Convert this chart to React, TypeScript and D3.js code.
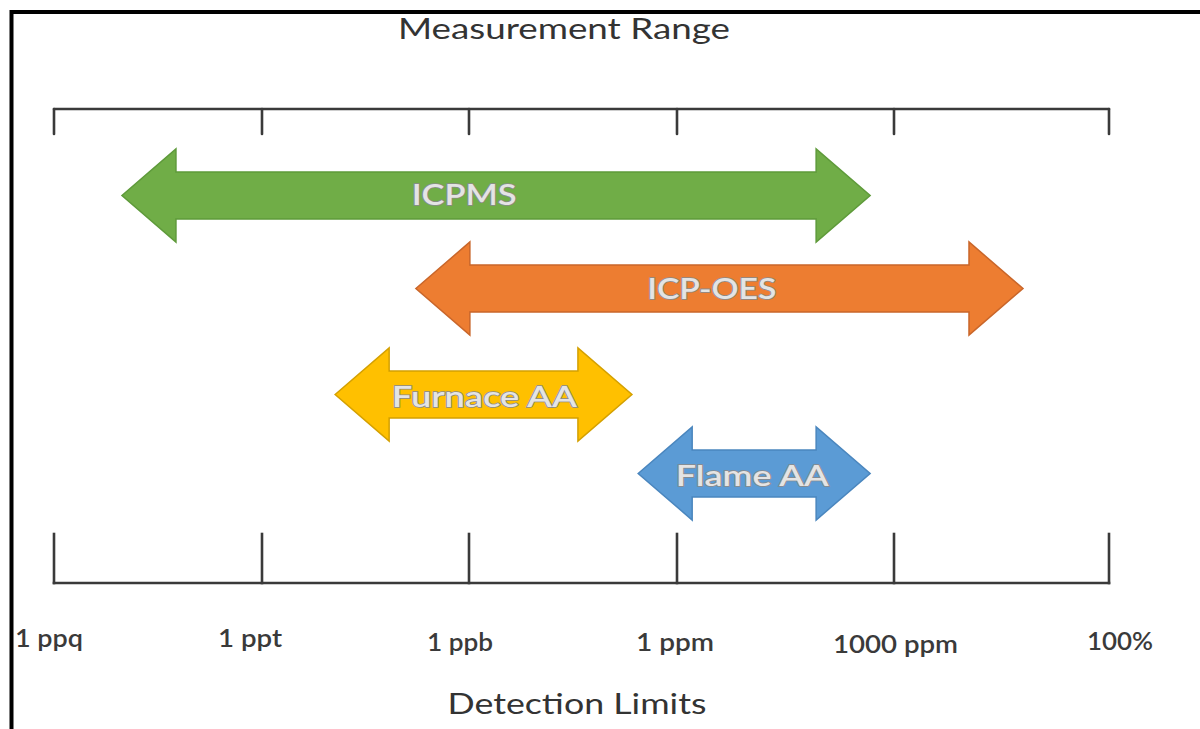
import React from "react";
import * as d3 from "d3";

// Axis ticks (log10 of mass fraction) and their labels
const tickDecades = [-15, -12, -9, -6, -3, 0];
const tickLabels = ["1 ppq", "1 ppt", "1 ppb", "1 ppm", "1000 ppm", "100%"];

// Techniques and their measurement ranges (log10 units)
const techniques = ["ICPMS", "ICP-OES", "Furnace AA", "Flame AA"];
const rangeLow = [-14.02, -9.77, -10.94, -6.56];
const rangeHigh = [-3.33, -1.2, -6.65, -3.33];
const labelAt = [-9.07, -5.52, -8.78, -4.96];
const colors = ["#70AD47", "#ED7D31", "#FFC000", "#5B9BD5"];
const strokes = ["#5E9A3A", "#C9662A", "#D4A000", "#4A86BE"];

const title = "Measurement Range";
const xTitle = "Detection Limits";

export default function App() {
  const W = 1200;
  const H = 729;
  const x = d3.scaleLinear().domain(tickDecades).range([54, 262, 469, 677, 894, 1109]);
  const rowY = [195.5, 288.5, 394.5, 473.5];
  const rowTextDy = [9, 10, 12.5, 12.5];
  const labelWidths = [105, 129, 185, 153];
  const tickLabelDx = [-5, -12, -9, -2, 1.5, 11];
  const tickLabelDy = [647, 647, 651, 651, 653, 650];
  const tickLabelWidths = [68, 64, 66, 78, 125, 66];
  const headLen = 54;
  const headHalf = 46.5;
  const shaftHalf = 23.5;
  const topAxisY = 109;
  const topTick = 25;
  const botAxisY = 583;
  const botTick = 49;
  const axisColor = "#3a3a3a";
  const font = "Lato, 'Open Sans', sans-serif";

  const line = d3.line<[number, number]>();
  const arrowPath = (x0: number, x1: number, cy: number) =>
    line([
      [x0, cy],
      [x0 + headLen, cy - headHalf],
      [x0 + headLen, cy - shaftHalf],
      [x1 - headLen, cy - shaftHalf],
      [x1 - headLen, cy - headHalf],
      [x1, cy],
      [x1 - headLen, cy + headHalf],
      [x1 - headLen, cy + shaftHalf],
      [x0 + headLen, cy + shaftHalf],
      [x0 + headLen, cy + headHalf],
    ]) + "Z";

  const [d0, d1] = [tickDecades[0], tickDecades[tickDecades.length - 1]];

  return (
    <svg
      width={W}
      height={H}
      style={{ position: "absolute", left: 0, top: 0, background: "#fff" }}
    >
      <rect x={0} y={0} width={W} height={H} fill="#fff" />
      {/* frame */}
      <path d={`M11.5,${H + 5} V12 H${W + 5}`} fill="none" stroke="#000" strokeWidth={4} />

      {/* title */}
      <text
        x={564}
        y={39}
        textAnchor="middle"
        fontFamily={font}
        fontSize={28}
        fill="#333"
        textLength={332}
        lengthAdjust="spacingAndGlyphs"
      >
        {title}
      </text>

      {/* top scale */}
      <g stroke={axisColor} strokeWidth={2.6} fill="none" strokeLinecap="round">
        <line x1={x(d0)} x2={x(d1)} y1={topAxisY} y2={topAxisY} />
        {tickDecades.map((d) => (
          <line key={d} x1={x(d)} x2={x(d)} y1={topAxisY} y2={topAxisY + topTick} />
        ))}
      </g>

      {/* arrows */}
      {techniques.map((t, i) => (
        <g key={t}>
          <path
            d={arrowPath(x(rangeLow[i]), x(rangeHigh[i]), rowY[i])}
            fill={colors[i]}
            stroke={strokes[i]}
            strokeWidth={1.5}
            strokeLinejoin="miter"
          />
          <text
            x={x(labelAt[i])}
            y={rowY[i] + rowTextDy[i]}
            textAnchor="middle"
            fontFamily={font}
            fontSize={29}
            fontWeight={600}
            textLength={labelWidths[i]}
            lengthAdjust="spacingAndGlyphs"
            fill="#e4e4e4"
            stroke="#8a8a8a"
            strokeWidth={1.6}
            paintOrder="stroke"
          >
            {t}
          </text>
        </g>
      ))}

      {/* bottom scale */}
      <g stroke={axisColor} strokeWidth={2.6} fill="none" strokeLinecap="square">
        <line x1={x(d0)} x2={x(d1)} y1={botAxisY} y2={botAxisY} />
        {tickDecades.map((d) => (
          <line key={d} x1={x(d)} x2={x(d)} y1={botAxisY} y2={botAxisY - botTick} />
        ))}
      </g>
      {tickDecades.map((d, i) => (
        <text
          key={d}
          x={x(d) + tickLabelDx[i]}
          y={tickLabelDy[i]}
          textAnchor="middle"
          fontFamily={font}
          fontSize={25}
          fontWeight={600}
          fill="#3a3a3a"
          textLength={tickLabelWidths[i]}
          lengthAdjust="spacingAndGlyphs"
        >
          {tickLabels[i]}
        </text>
      ))}

      <text
        x={577}
        y={714}
        textAnchor="middle"
        fontFamily={font}
        fontSize={28}
        fill="#333"
        textLength={259}
        lengthAdjust="spacingAndGlyphs"
      >
        {xTitle}
      </text>
    </svg>
  );
}
